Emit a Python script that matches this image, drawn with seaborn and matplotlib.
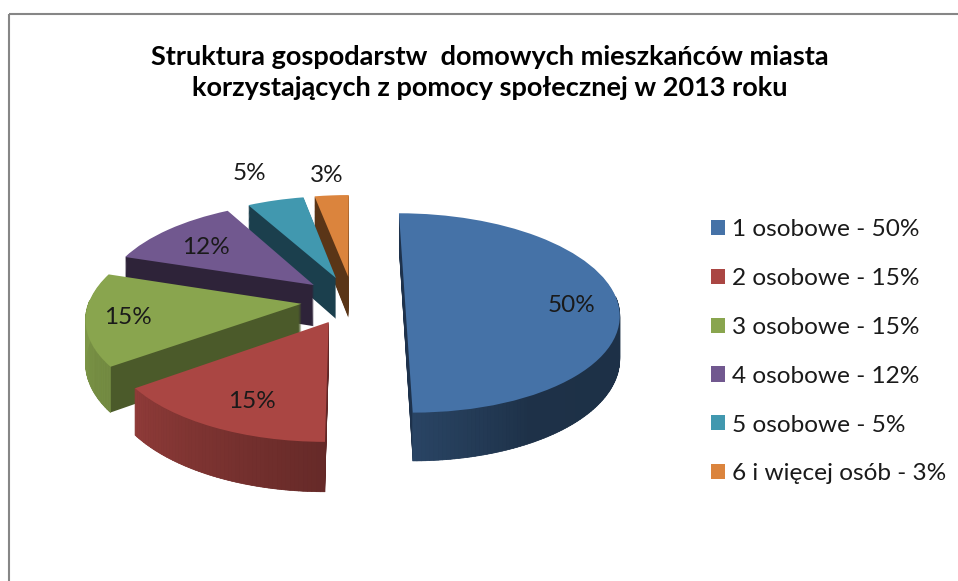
# Struktura gospodarstw domowych - exploded 3D style pie
import matplotlib
matplotlib.use("Agg")
import matplotlib.pyplot as plt
import matplotlib.transforms as mtransforms
from matplotlib.collections import PolyCollection
from matplotlib.patches import Patch, Rectangle
import numpy as np
import seaborn as sns

# Data
categories = ["1 osobowe", "2 osobowe", "3 osobowe", "4 osobowe", "5 osobowe", "6 i więcej osób"]
shares = [50, 15, 15, 12, 5, 3]
title_text = "Struktura gospodarstw  domowych mieszkańców miasta\nkorzystających z pomocy społecznej w 2013 roku"

# Styles
top_colors = ["#4572A7", "#AA4643", "#89A54E", "#71588F", "#4198AF", "#DB843D"]
cut_colors = ["#1E324C", "#612726", "#4B5A2A", "#2E2339", "#1B3F4D", "#5A3517"]
label_pos = [(572, 305), (252, 402), (128, 318), (206, 247), (249, 174), (327, 175)]
shade_angle = [90, 150, 180, 234, 270]
shade_value = [.42, .43, .6, .84, .92]
z_rank = [5, 4, 3, 2, 1, 0] # back slices go first

# Pie geometry, in pixels
CX, CY, RX, RY, TILT = 353, 300, 212, 98, .13
EXPLODE = .245
DEPTH = 42


class Perspective(mtransforms.Transform):
  input_dims = 2
  output_dims = 2

  def __init__(self, drop=0):
    super().__init__()
    self.drop = drop

  def transform_non_affine(self, values):
    values = np.asarray(values, dtype=float)
    w = 1 + TILT * values[:, 1]
    return np.column_stack([CX + RX * values[:, 0] / w,
                            CY + (self.drop - RY * values[:, 1]) / w])


sns.set_theme(style="white")
plt.rcParams["font.family"] = ["Lato", "DejaVu Sans"]

fig = plt.figure(figsize=(9.58, 5.81), dpi=100)
ax = fig.add_axes([0, 0, 1, 1])
palette = sns.color_palette(top_colors)


def draw_layer(colors, drop, zbase):
  wedges, _ = ax.pie(shares, explode=[EXPLODE] * len(shares), colors=colors, startangle=90,
                     counterclock=False, wedgeprops={"linewidth": 0})
  for i, wedge in enumerate(wedges):
    wedge.set_transform(Perspective(drop) + ax.transData)
    wedge.set_zorder(zbase + z_rank[i])


for drop in range(DEPTH, 0, -1):
  draw_layer(cut_colors, drop, .1)
draw_layer(palette, 0, .6)

# outer wall, shaded along the arc
edges = np.cumsum([0] + shares) * 3.6
for i in range(len(shares)):
  mid = np.radians((edges[i] + edges[i + 1]) / 2)
  angles = np.arange(edges[i], edges[i + 1] + .5, 1.0)
  angles = angles[np.cos(np.radians(angles)) < .05]
  if len(angles) < 2:
    continue
  rad = np.radians(angles)
  ring = np.column_stack([EXPLODE * np.sin(mid) + np.sin(rad), EXPLODE * np.cos(mid) + np.cos(rad)])
  upper = Perspective(0).transform_non_affine(ring)
  lower = Perspective(DEPTH).transform_non_affine(ring)
  quads = [[upper[j], upper[j + 1], lower[j + 1], lower[j]] for j in range(len(ring) - 1)]
  base = np.array(palette[i])
  shades = [np.clip(base * np.interp(a + .5, shade_angle, shade_value), 0, 1) for a in angles[:-1]]
  ax.add_collection(PolyCollection(quads, facecolors=shades, edgecolors=shades, linewidths=.5,
                                   zorder=z_rank[i] + .4), autolim=False)

ax.set_aspect("auto")
ax.set_xlim(0, 958)
ax.set_ylim(581, 0)
ax.set_axis_off()

# chart frame runs off the right and bottom of the picture
ax.add_patch(Rectangle((9.5, 13.5), 1000, 620, fill=False, edgecolor="#868686", linewidth=1.5, zorder=20))

ax.text(490, 72.5, title_text, ha="center", va="center", fontsize=19.5, fontweight="bold",
        color="black", linespacing=1.35, zorder=21)

for value, (x, y) in zip(shares, label_pos):
  ax.text(x, y, "%d%%" % value, ha="center", va="center", fontsize=17.5, color="#1a1a1a", zorder=21)

handles = [Patch(facecolor=c, edgecolor="none") for c in palette]
legend_labels = ["%s - %d%%" % (c, v) for c, v in zip(categories, shares)]
ax.legend(handles, legend_labels, loc="upper left", bbox_to_anchor=(.742, .623), frameon=False,
          fontsize=17.6, labelspacing=1.14, handlelength=.58, handleheight=.58, handletextpad=.3,
          labelcolor="#1a1a1a", borderaxespad=0, borderpad=0)

fig.savefig("out.png", dpi=100, facecolor="white")
plt.close()
